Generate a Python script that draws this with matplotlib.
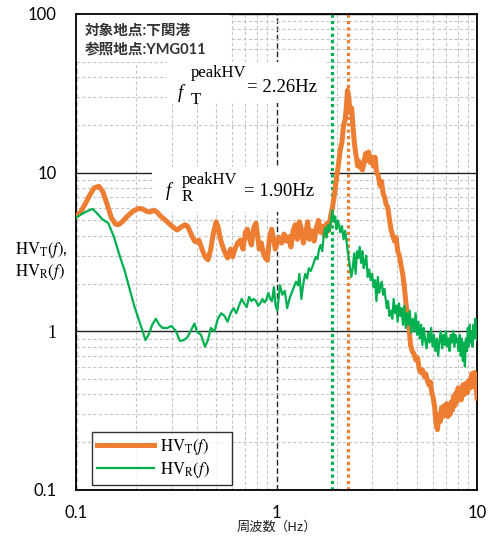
import numpy as np
import matplotlib
matplotlib.use("Agg")
import matplotlib.pyplot as plt
from matplotlib.patches import Rectangle

plt.rcParams['font.family'] = ['Lato', 'Noto Sans CJK JP', 'DejaVu Sans']
plt.rcParams['mathtext.fontset'] = 'stix'

ORANGE = "#ED7D31"
GREEN = "#00B050"
SERIF = "Liberation Serif"

# HV_T(f)
hvt_freq = [0.100, 0.105, 0.110, 0.117, 0.123, 0.130, 0.136, 0.143, 0.150, 0.157,
            0.163, 0.170, 0.180, 0.192, 0.205, 0.215, 0.225, 0.235, 0.245, 0.255,
            0.265, 0.280, 0.295, 0.310, 0.320, 0.335, 0.350, 0.360, 0.375, 0.390,
            0.400, 0.410, 0.425, 0.440, 0.455, 0.470, 0.485, 0.500, 0.510, 0.525,
            0.540, 0.555, 0.570, 0.590, 0.605, 0.620, 0.640, 0.660, 0.680, 0.700,
            0.715, 0.730, 0.750, 0.770, 0.790, 0.805, 0.820, 0.840, 0.860, 0.880,
            0.900, 0.920, 0.945, 0.965, 0.985, 1.00, 1.03, 1.06, 1.09, 1.12,
            1.15, 1.18, 1.21, 1.24, 1.27, 1.30, 1.33, 1.36, 1.40, 1.43,
            1.46, 1.50, 1.54, 1.58, 1.62, 1.66, 1.70, 1.74, 1.78, 1.82,
            1.86, 1.90, 1.95, 2.00, 2.04, 2.08, 2.12, 2.16, 2.20, 2.23,
            2.26, 2.29, 2.33, 2.37, 2.41, 2.45, 2.50, 2.54, 2.58, 2.63,
            2.68, 2.73, 2.78, 2.83, 2.88, 2.93, 2.98, 3.04, 3.10, 3.16,
            3.22, 3.28, 3.34, 3.40, 3.46, 3.52, 3.58, 3.65, 3.72, 3.80,
            3.88, 3.95, 4.02, 4.10, 4.18, 4.26, 4.34, 4.42, 4.50, 4.58,
            4.66, 4.75, 4.85, 4.95, 5.05, 5.15, 5.25, 5.35, 5.45, 5.55,
            5.65, 5.75, 5.85, 5.95, 6.05, 6.15, 6.25, 6.35, 6.45, 6.55,
            6.65, 6.75, 6.85, 6.95, 7.05, 7.15, 7.25, 7.35, 7.45, 7.55,
            7.65, 7.75, 7.85, 7.95, 8.05, 8.15, 8.25, 8.35, 8.50, 8.65,
            8.80, 8.95, 9.10, 9.25, 9.40, 9.55, 9.70, 9.85, 10.0]
hvt_amp = [5.3, 5.6, 6.2, 7.2, 8.0, 8.2, 7.6, 6.3, 5.2, 4.75,
           4.7, 4.9, 5.3, 5.7, 5.95, 5.9, 5.7, 5.65, 5.8, 5.6,
           5.3, 5.0, 4.7, 4.45, 4.35, 4.55, 4.7, 4.6, 4.1, 3.7,
           3.65, 3.75, 3.3, 2.95, 2.82, 3.3, 4.2, 4.9, 4.6, 3.8,
           3.4, 3.1, 2.9, 3.3, 2.95, 3.3, 3.6, 3.75, 3.3, 4.2,
           4.4, 3.9, 3.5, 4.5, 4.8, 4.0, 3.3, 3.6, 3.1, 2.9,
           2.8, 3.8, 4.4, 3.9, 3.3, 3.5, 3.9, 3.6, 4.1, 3.7,
           3.95, 3.4, 4.3, 4.7, 3.8, 4.9, 4.4, 3.6, 4.2, 4.9,
           3.8, 4.3, 3.7, 4.5, 5.0, 4.2, 4.6, 4.0, 4.8, 4.3,
           5.3, 6.0, 7.5, 9.5, 11.5, 14.0, 15.5, 20.0, 21.5, 26.0,
           33.0, 30.0, 24.0, 25.5, 19.0, 15.0, 12.5, 11.0, 11.8, 10.8,
           10.4, 11.5, 13.2, 12.0, 13.5, 11.6, 12.5, 11.0, 12.5, 10.0,
           9.5, 8.3, 8.8, 7.4, 7.0, 6.3, 6.1, 5.2, 4.4, 4.0,
           3.7, 3.9, 3.2, 3.0, 2.6, 2.3, 1.9, 1.5, 1.2, 1.05,
           0.82, 0.75, 0.72, 0.66, 0.68, 0.58, 0.55, 0.57, 0.52, 0.54,
           0.49, 0.46, 0.48, 0.41, 0.38, 0.33, 0.26, 0.24, 0.30, 0.27,
           0.33, 0.29, 0.34, 0.31, 0.35, 0.29, 0.33, 0.30, 0.36, 0.32,
           0.39, 0.34, 0.41, 0.36, 0.44, 0.38, 0.42, 0.37, 0.46, 0.40,
           0.47, 0.41, 0.49, 0.44, 0.54, 0.45, 0.55, 0.48, 0.38]

# HV_R(f)
hvr_freq = [0.100, 0.106, 0.113, 0.121, 0.128, 0.135, 0.145, 0.155, 0.165, 0.175,
            0.185, 0.195, 0.205, 0.215, 0.222, 0.230, 0.240, 0.250, 0.260, 0.270,
            0.285, 0.300, 0.315, 0.330, 0.345, 0.360, 0.375, 0.390, 0.400, 0.420,
            0.440, 0.455, 0.470, 0.490, 0.510, 0.530, 0.550, 0.570, 0.590, 0.610,
            0.630, 0.650, 0.670, 0.690, 0.710, 0.730, 0.750, 0.770, 0.790, 0.810,
            0.830, 0.850, 0.870, 0.890, 0.910, 0.930, 0.950, 0.970, 0.990, 1.01,
            1.04, 1.07, 1.10, 1.13, 1.16, 1.19, 1.22, 1.25, 1.28, 1.30,
            1.33, 1.36, 1.39, 1.42, 1.45, 1.48, 1.51, 1.54, 1.57, 1.60,
            1.63, 1.66, 1.69, 1.72, 1.75, 1.78, 1.81, 1.84, 1.87, 1.90,
            1.93, 1.96, 1.99, 2.02, 2.05, 2.08, 2.12, 2.16, 2.20, 2.24,
            2.28, 2.32, 2.36, 2.40, 2.44, 2.48, 2.52, 2.56, 2.60, 2.64,
            2.68, 2.72, 2.76, 2.80, 2.85, 2.90, 2.95, 3.00, 3.05, 3.10,
            3.15, 3.20, 3.25, 3.30, 3.35, 3.40, 3.45, 3.50, 3.55, 3.60,
            3.66, 3.72, 3.78, 3.84, 3.90, 3.96, 4.02, 4.08, 4.14, 4.20,
            4.27, 4.34, 4.41, 4.48, 4.55, 4.62, 4.70, 4.78, 4.86, 4.94,
            5.02, 5.10, 5.18, 5.26, 5.34, 5.42, 5.50, 5.60, 5.70, 5.80,
            5.90, 6.00, 6.10, 6.20, 6.30, 6.40, 6.50, 6.60, 6.70, 6.80,
            6.90, 7.00, 7.10, 7.20, 7.30, 7.40, 7.50, 7.60, 7.70, 7.80,
            7.90, 8.00, 8.10, 8.20, 8.30, 8.40, 8.50, 8.60, 8.70, 8.80,
            8.90, 9.00, 9.10, 9.20, 9.30, 9.40, 9.50, 9.60, 9.70, 9.80,
            9.90, 10.0]
hvr_amp = [5.2, 5.45, 5.7, 5.9, 5.5, 5.1, 4.8, 3.9, 3.0, 2.4,
           1.85, 1.45, 1.2, 1.0, 0.88, 0.95, 1.1, 1.2, 1.1, 1.05,
           1.05, 1.08, 1.0, 0.87, 0.88, 0.92, 1.02, 1.12, 1.0, 0.95,
           0.8, 0.88, 1.05, 1.0, 1.2, 1.3, 1.25, 1.15, 1.3, 1.4,
           1.3, 1.45, 1.6, 1.5, 1.42, 1.65, 1.55, 1.6, 1.55, 1.45,
           1.5, 1.6, 1.52, 1.58, 1.75, 1.6, 1.55, 1.9, 1.45, 1.35,
           1.95, 1.7, 1.8, 1.4, 1.6, 1.75, 1.9, 2.05, 1.95, 2.3,
           1.6, 2.0, 2.3, 2.15, 2.5, 2.4, 2.55, 2.75, 2.95, 2.85,
           3.3, 3.5, 3.2, 4.0, 4.5, 3.9, 4.7, 4.3, 5.0, 5.8,
           4.9, 5.3, 4.4, 5.0, 4.7, 4.2, 4.6, 3.8, 4.3, 3.6,
           3.0, 2.6, 2.2, 2.5, 3.1, 2.3, 3.2, 2.9, 3.4, 2.7,
           3.2, 2.5, 2.7, 3.0, 2.2, 2.45, 2.1, 2.3, 1.9, 2.1,
           1.55, 2.2, 1.75, 1.95, 2.05, 1.7, 1.85, 1.6, 1.4, 1.55,
           1.25, 1.35, 1.2, 1.6, 1.3, 1.45, 1.15, 1.5, 1.25, 1.4,
           1.1, 1.45, 1.05, 1.3, 1.1, 1.35, 0.98, 1.2, 1.0, 1.3,
           0.95, 1.15, 0.9, 1.1, 0.82, 1.05, 0.9, 0.78, 0.98, 0.85,
           1.05, 0.8, 0.95, 0.75, 0.9, 0.7, 0.88, 1.0, 0.78, 0.95,
           0.82, 1.0, 0.8, 0.9, 0.75, 0.95, 0.85, 1.0, 0.8, 0.95,
           0.85, 0.9, 0.75, 0.95, 0.7, 0.9, 0.65, 0.85, 0.6, 0.9,
           0.75, 1.05, 0.8, 1.1, 0.85, 1.0, 0.8, 1.1, 0.9, 1.2,
           0.95, 0.88]

peak_t = 2.26
peak_r = 1.90

fig = plt.figure(figsize=(4.93, 5.41), dpi=100)
ax = fig.add_axes([0.1542, 0.0943, 0.8134, 0.8799])
ax.set_xscale("log")
ax.set_yscale("log")
ax.set_xlim(0.1, 10)
ax.set_ylim(0.1, 100)
ax.set_axisbelow(True)

# grid: dashed light minor, dark major
ax.grid(which="minor", color="#c6c6c6", ls=(0, (3, 2)), lw=0.8)
ax.yaxis.grid(which="major", color="#222222", ls="-", lw=1.0)
ax.xaxis.grid(which="major", color="#222222", ls=(0, (4, 2)), lw=1.0)

for s in ax.spines.values():
    s.set_color("black")
    s.set_linewidth(1.3)

ax.tick_params(which="both", length=0)
ax.set_xticks([0.1, 1, 10])
ax.set_xticklabels(["0.1", "1", "10"], fontsize=12)
ax.set_yticks([0.1, 1, 10, 100])
ax.set_yticklabels(["0.1", "1", "10", "100"], fontsize=12)
ax.tick_params(axis="x", pad=11)
ax.tick_params(axis="y", pad=14)
for lab in ax.get_yticklabels():
    if lab.get_text() == "1":
        lab.set_fontfamily(SERIF)
        lab.set_fontsize(13)

# white boxes behind the annotation texts
for (x0, y0, w, h) in [(0.0, 0.899, 0.384, 0.101),
                       (0.227, 0.813, 0.394, 0.086),
                       (0.19, 0.584, 0.443, 0.095)]:
    ax.add_patch(Rectangle((x0, y0), w, h, transform=ax.transAxes,
                           facecolor="white", edgecolor="none", zorder=1))

ax.plot(hvt_freq, hvt_amp, color=ORANGE, lw=3.6, solid_joinstyle="round",
        label=r"$\mathrm{HV_T}(f)$", zorder=3)
ax.plot(hvr_freq, hvr_amp, color=GREEN, lw=1.6, label=r"$\mathrm{HV_R}(f)$", zorder=3.2)

ax.axvline(peak_r, color=GREEN, lw=2.3, ls=(0, (1, 1)), zorder=2.5)
ax.axvline(peak_t, color=ORANGE, lw=2.3, ls=(0, (1, 1)), zorder=2.5)

ax.text(0.022, 0.945, "対象地点:下関港\n参照地点:YMG011", transform=ax.transAxes,
        fontsize=10.5, fontweight="bold", va="center", ha="left",
        linespacing=1.35, color="#333333", zorder=4)

# peak labels, built from pieces so the scripts stay large
def peak_label(x_f, y_f, x_s, y_sup, y_sub, x_eq, y_eq, sub, value):
    kw = dict(transform=ax.transAxes, family=SERIF, ha="left", va="center", zorder=4)
    ax.text(x_f, y_f, "f", fontsize=13.5, style="italic", **kw)
    ax.text(x_s, y_sup, "peakHV", fontsize=12, **kw)
    ax.text(x_s, y_sub, sub, fontsize=12, **kw)
    ax.text(x_eq, y_eq, "= " + value, fontsize=13.5, **kw)

peak_label(0.254, 0.834, 0.287, 0.876, 0.819, 0.427, 0.845, "T", f"{peak_t:.2f}Hz")
peak_label(0.224, 0.628, 0.264, 0.651, 0.616, 0.419, 0.628, "R", f"{peak_r:.2f}Hz")

leg = ax.legend(loc="lower left", bbox_to_anchor=(0.04, 0.0105, 0.349, 0.11),
                mode="expand", borderaxespad=0,
                fontsize=12, frameon=True, fancybox=False, edgecolor="black",
                handlelength=3.4, borderpad=0.3, labelspacing=0.2,
                handletextpad=0.35)
leg.get_frame().set_linewidth(1.0)
leg.set_zorder(5)

fig.text(15 / 493, 1 - 261 / 541, "$\\mathrm{HV_T}(f)$,\n$\\mathrm{HV_R}(f)$",
         fontsize=12, va="center", ha="left", linespacing=1.15)
fig.text(276 / 493, 1 - 527 / 541, "周波数", fontsize=9.5, ha="right", va="center",
         color="#222222", family=["Noto Sans CJK JP"])
fig.text(275 / 493, 1 - 527 / 541, "（Hz）", fontsize=9.5, ha="left", va="center",
         color="#222222", family=["Noto Sans CJK JP"])

fig.savefig("out.png", dpi=100)
